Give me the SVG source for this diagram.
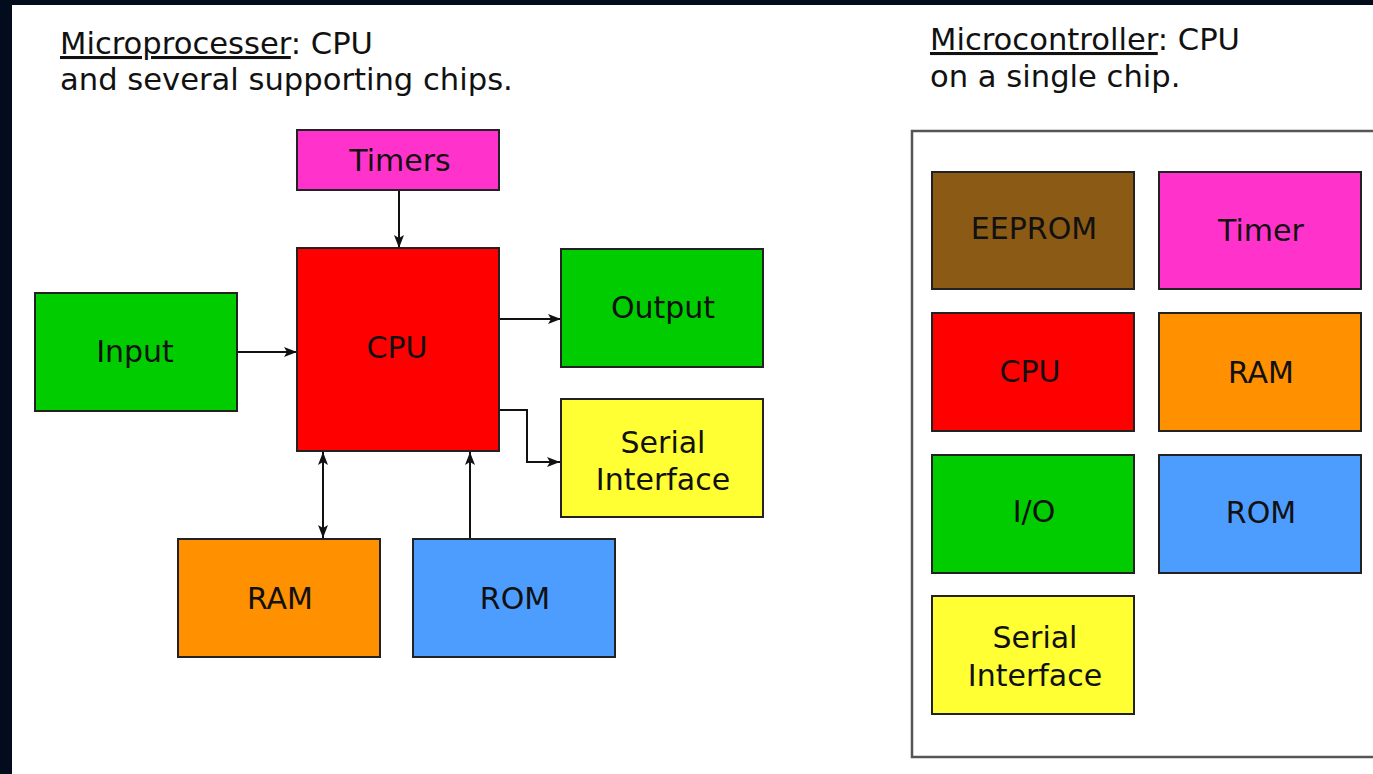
<svg xmlns="http://www.w3.org/2000/svg" width="1373" height="774" viewBox="0 0 1373 774">
<defs>
<style>
.box{stroke:#222;stroke-width:2}
.lbl{font-family:"DejaVu Sans","Verdana",sans-serif;font-size:30px;fill:#111;text-anchor:middle}
.hdr{font-family:"DejaVu Sans","Verdana",sans-serif;font-size:30.6px;fill:#111}
.con{fill:none;stroke:#111;stroke-width:2}
</style>
<marker id="ah" viewBox="0 0 13 10" refX="13" refY="5" markerWidth="13" markerHeight="10" markerUnits="userSpaceOnUse" orient="auto-start-reverse">
<path d="M0,0 L13,5 L0,10 L3,5 z" fill="#111"/>
</marker>
</defs>
<rect x="0" y="0" width="1373" height="774" fill="#ffffff"/>
<rect x="0" y="0" width="12" height="774" fill="#020c1c"/>
<rect x="0" y="0" width="1373" height="5" fill="#020c1c"/>

<g id="header-left">
<text class="hdr" x="60" y="54"><tspan text-decoration="underline">Microprocesser</tspan>: CPU</text>
<text class="hdr" x="60" y="90">and several supporting chips.</text>
</g>
<g id="header-right">
<text class="hdr" x="930" y="50"><tspan text-decoration="underline">Microcontroller</tspan>: CPU</text>
<text class="hdr" x="930" y="87">on a single chip.</text>
</g>

<g id="connectors">
<line class="con" x1="399" y1="191" x2="399" y2="248" marker-end="url(#ah)"/>
<line class="con" x1="237" y1="352" x2="297" y2="352" marker-end="url(#ah)"/>
<line class="con" x1="499" y1="319" x2="561" y2="319" marker-end="url(#ah)"/>
<polyline class="con" points="499,410 527,410 527,462 560,462" marker-end="url(#ah)"/>
<line class="con" x1="323" y1="452" x2="323" y2="538" marker-start="url(#ah)" marker-end="url(#ah)"/>
<line class="con" x1="470" y1="539" x2="470" y2="452" marker-end="url(#ah)"/>
</g>

<g id="timers"><rect class="box" x="297" y="130" width="202" height="60" fill="#ff33cc"/><text class="lbl" x="400" y="171">Timers</text></g>
<g id="cpu"><rect class="box" x="297" y="248" width="202" height="203" fill="#ff0000"/><text class="lbl" x="397" y="358">CPU</text></g>
<g id="input"><rect class="box" x="35" y="293" width="202" height="118" fill="#00cc00"/><text class="lbl" x="135" y="362">Input</text></g>
<g id="output"><rect class="box" x="561" y="249" width="202" height="118" fill="#00cc00"/><text class="lbl" x="663" y="318">Output</text></g>
<g id="serial"><rect class="box" x="561" y="399" width="202" height="118" fill="#ffff33"/><text class="lbl" x="663" y="453">Serial</text><text class="lbl" x="663" y="490">Interface</text></g>
<g id="ram"><rect class="box" x="178" y="539" width="202" height="118" fill="#ff9000"/><text class="lbl" x="280" y="609">RAM</text></g>
<g id="rom"><rect class="box" x="413" y="539" width="202" height="118" fill="#4d9dff"/><text class="lbl" x="515" y="609">ROM</text></g>

<g id="microcontroller">
<rect x="912" y="131" width="500" height="626" fill="#ffffff" stroke="#555" stroke-width="2.5"/>
</g>
<g id="mc-eeprom"><rect class="box" x="932" y="172" width="202" height="117" fill="#8b5a14"/><text class="lbl" x="1034" y="239">EEPROM</text></g>
<g id="mc-timer"><rect class="box" x="1159" y="172" width="202" height="117" fill="#ff33cc"/><text class="lbl" x="1261" y="241">Timer</text></g>
<g id="mc-cpu"><rect class="box" x="932" y="313" width="202" height="118" fill="#ff0000"/><text class="lbl" x="1030" y="382">CPU</text></g>
<g id="mc-ram"><rect class="box" x="1159" y="313" width="202" height="118" fill="#ff9000"/><text class="lbl" x="1261" y="383">RAM</text></g>
<g id="mc-io"><rect class="box" x="932" y="455" width="202" height="118" fill="#00cc00"/><text class="lbl" x="1034" y="522">I/O</text></g>
<g id="mc-rom"><rect class="box" x="1159" y="455" width="202" height="118" fill="#4d9dff"/><text class="lbl" x="1261" y="523">ROM</text></g>
<g id="mc-serial"><rect class="box" x="932" y="596" width="202" height="118" fill="#ffff33"/><text class="lbl" x="1035" y="648">Serial</text><text class="lbl" x="1035" y="686">Interface</text></g>
</svg>
